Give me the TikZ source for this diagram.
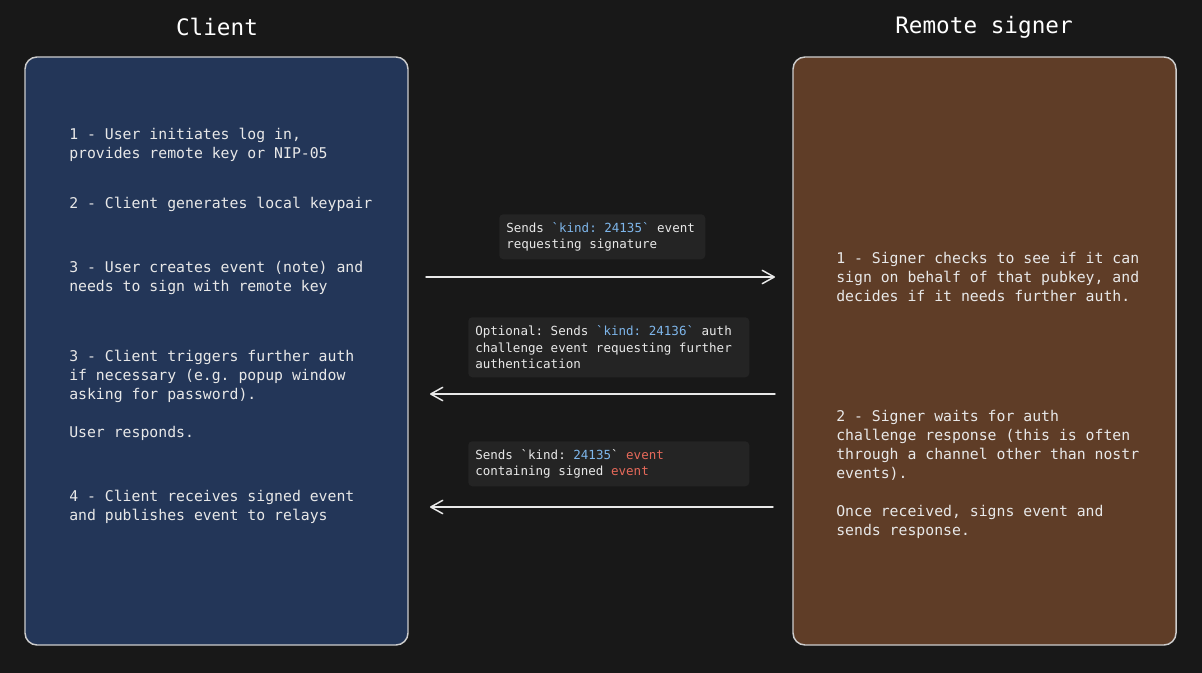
\documentclass[tikz,border=0pt]{standalone}
\usepackage{fontspec}
\setmonofont{DejaVu Sans Mono}
\usetikzlibrary{arrows.meta,positioning}

\definecolor{canvas}{RGB}{24,24,24}
\definecolor{ink}{RGB}{232,232,232}
\definecolor{edge}{RGB}{205,205,205}
\definecolor{clientfill}{RGB}{35,54,88}
\definecolor{signerfill}{RGB}{95,61,39}
\definecolor{msgbg}{RGB}{36,36,36}
\definecolor{kindblue}{RGB}{126,182,235}
\definecolor{eventred}{RGB}{230,105,90}

\newcommand{\bq}{\textasciigrave}
\newcommand{\kindtag}[1]{\textcolor{kindblue}{\bq kind: #1\bq}}
\newcommand{\evt}{\textcolor{eventred}{event}}

\begin{document}
\begin{tikzpicture}[
    x=0.75pt, y=-0.75pt,
    font=\ttfamily, text=ink,
    title/.style={font=\ttfamily\fontsize{17}{20}\selectfont,text=white},
    panel/.style={draw=edge,line width=1.1pt,rounded corners=9pt,
        minimum width=287.25pt,minimum height=441pt},
    steps/.style={anchor=north west,align=left,inner sep=0pt,
        font=\ttfamily\fontsize{11.1}{14.25}\selectfont},
    msg/.style={fill=msgbg,rounded corners=3pt,anchor=north west,align=flush left,
        inner xsep=5.25pt,inner ysep=0pt,
        font=\ttfamily\fontsize{9.4}{12.6}\selectfont},
    flow/.style={draw=ink,line width=1.1pt,line cap=round,
        -{Straight Barb[length=9pt,width=10pt,round]}}
]
\fill[canvas] (0,0) rectangle (1202,673);
\path[use as bounding box] (0,0) rectangle (1202,673);

\node[title] (clienttitle) at (217,27) {Client};
\node[title] (signertitle) at (984,27) {Remote signer};

\node[panel,fill=clientfill] (client) at (216.5,351) {};
\node[panel,fill=signerfill] (signer) at (984.5,351) {};

% client side steps
\node[steps] (c1) at (69,128) {1 - User initiates log in,\\provides remote key or NIP-05};
\node[steps] (c2) at (69,197) {2 - Client generates local keypair};
\node[steps] (c3) at (69,261) {3 - User creates event (note) and\\needs to sign with remote key};
\node[steps] (c4) at (69,350) {3 - Client triggers further auth\\if necessary (e.g. popup window\\asking for password).\\[14.25pt]User responds.};
\node[steps] (c5) at (69,490) {4 - Client receives signed event\\and publishes event to relays};

% signer side steps
\node[steps] (r1) at (836,252) {1 - Signer checks to see if it can\\sign on behalf of that pubkey, and\\decides if it needs further auth.};
\node[steps] (r2) at (836,410) {2 - Signer waits for auth\\challenge response (this is often\\through a channel other than nostr\\events).\\[14.25pt]Once received, signs event and\\sends response.};

% messages on the wire
\node[msg,text width=144pt,minimum height=33.75pt] (m1) at (499,214)
    {Sends \kindtag{24135} event\\requesting signature};
\node[msg,text width=200.25pt,minimum height=45pt] (m2) at (468,317)
    {Optional: Sends \kindtag{24136} auth\\challenge event requesting further\\authentication};
\node[msg,text width=200.25pt,minimum height=33.75pt] (m3) at (468,441)
    {Sends \bq kind: \textcolor{kindblue}{24135}\bq{} \evt\\containing signed \evt};

\coordinate (reqA) at (426,277);
\coordinate (reqB) at (775,277);
\coordinate (authA) at (775,394);
\coordinate (authB) at (430,394);
\coordinate (sigA) at (773,507);
\coordinate (sigB) at (430,507);
\draw[flow] (reqA) -- (reqB);
\draw[flow] (authA) -- (authB);
\draw[flow] (sigA) -- (sigB);
\end{tikzpicture}
\end{document}
